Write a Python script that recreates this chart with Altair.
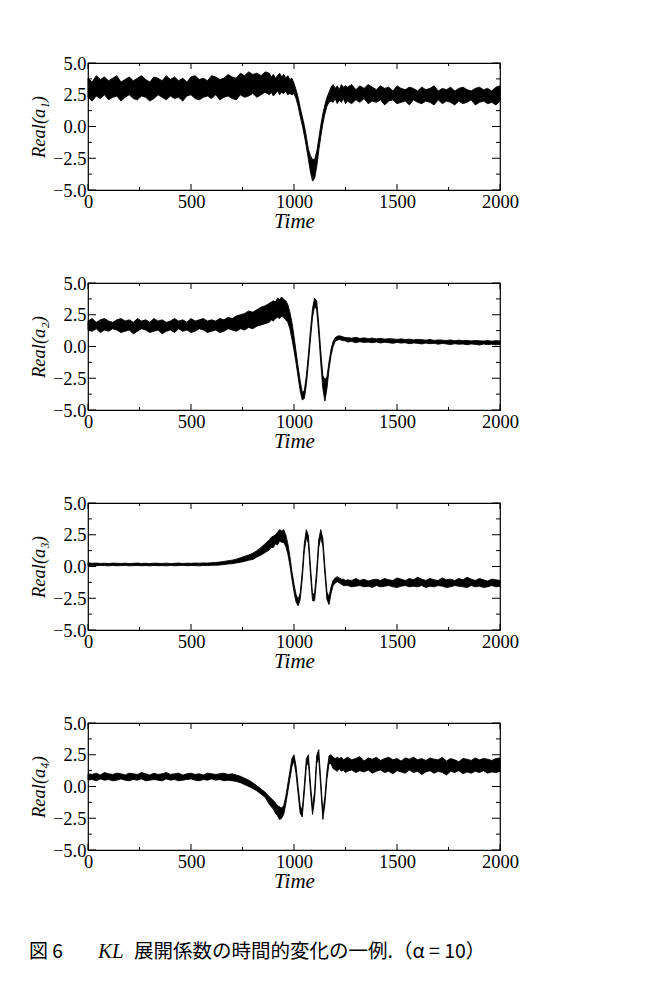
import altair as alt
import pandas as pd

# ---- sampling grid (time) ----
T_A = list(range(0, 880, 20))      # 0..860
T_B = list(range(880, 1260, 10))   # 880..1250
T_C = list(range(1260, 2001, 20))  # 1260..2000

# ---- panel 1: Real(a1) lower / upper envelope of the noisy trace ----
A1_lo = [2.3,2.0,2.4,2.2,2.5,2.1,2.3,2.4,2.0,2.3,2.5,2.2,2.1,2.4,2.3,2.0,2.2,2.5,2.3,2.1,
         2.4,2.2,2.3,2.0,2.4,2.5,2.2,2.1,2.3,2.4,2.2,2.5,2.1,2.3,2.4,2.2,2.1,2.5,2.3,2.4,
         2.6,2.3,2.5,2.7]
A1_hi = [3.8,3.5,4.0,3.7,3.9,3.6,3.8,4.0,3.5,3.7,3.9,3.6,3.8,4.0,3.7,3.5,3.9,3.8,3.6,4.0,
         3.7,3.9,3.6,3.8,3.5,3.9,4.0,3.7,3.8,3.6,4.0,3.9,3.7,3.8,4.1,3.9,3.8,4.2,4.0,4.3,
         4.1,4.2,4.0,4.3]
B1_lo = [2.5,2.7,2.4,2.6,2.8,2.5,2.7,2.6,2.8,2.5,2.6,2.5,2.6,2.2,1.6,0.8,0.1,-0.7,-1.6,-2.6,
         -3.6,-4.3,-4.1,-3.2,-1.9,-0.8,0.2,1.0,1.6,1.9,2.0,1.9,2.2,1.8,2.1,1.9,2.2,1.8]
B1_hi = [4.2,3.9,4.1,3.8,4.0,4.2,3.9,4.1,3.8,4.0,3.7,3.8,3.4,2.9,2.3,1.5,0.8,0.1,-0.8,-1.8,
         -2.3,-2.6,-2.6,-2.0,-1.0,0.1,1.0,1.7,2.3,2.7,3.1,3.3,3.0,3.2,2.9,3.3,3.1,3.2]
C1_lo = [2.0,1.8,2.1,1.9,2.2,1.8,2.0,1.9,2.1,1.7,2.0,2.1,1.8,1.9,2.0,1.7,2.1,1.9,1.8,2.0,
         1.9,1.7,2.1,1.8,2.0,1.9,1.7,2.0,1.8,1.9,2.1,1.7,1.9,2.0,1.8,1.9,1.7,2.0]
C1_hi = [3.1,3.3,2.9,3.2,3.0,3.3,3.1,2.9,3.2,3.0,3.1,2.8,3.2,3.0,2.9,3.1,3.0,2.8,3.1,2.9,
         3.0,3.2,2.8,3.0,2.9,3.1,2.8,3.0,3.1,2.9,2.8,3.0,3.1,2.9,3.0,2.8,3.1,3.2]

# ---- panel 2: Real(a2) ----
A2_lo = [1.3,1.2,1.4,1.1,1.3,1.2,1.4,1.3,1.1,1.2,1.3,1.0,1.2,1.4,1.3,1.1,1.2,1.3,1.0,1.2,
         1.3,1.1,1.4,1.2,1.3,1.1,1.2,1.4,1.3,1.1,1.2,1.3,1.1,1.2,1.4,1.3,1.2,1.4,1.3,1.5,
         1.4,1.6,1.7,1.8]
A2_hi = [2.0,2.2,1.9,2.1,2.2,2.0,1.9,2.1,2.2,2.0,2.1,1.9,2.2,2.0,2.1,1.9,2.2,2.0,2.1,1.9,
         2.0,2.2,2.0,2.1,1.9,2.2,2.0,2.1,2.2,2.0,2.1,2.0,2.2,2.1,2.3,2.2,2.4,2.5,2.6,2.8,
         2.7,2.9,3.1,3.2]
B2_lo = [1.9,2.1,2.0,2.2,2.3,2.2,2.4,2.3,2.1,1.9,1.4,0.6,-0.3,-1.3,-2.4,-3.5,-4.2,-4.1,-3.0,-1.3,
         0.6,2.3,3.2,2.9,1.0,-1.3,-3.3,-4.3,-3.3,-1.8,-0.7,0.0,0.4,0.5,0.55,0.5,0.45,0.45]
B2_hi = [3.4,3.5,3.6,3.5,3.8,3.7,3.9,3.7,3.6,3.3,2.7,1.9,0.8,-0.4,-1.6,-2.7,-3.6,-3.5,-2.3,-0.6,
         1.3,3.0,3.8,3.6,1.8,-0.4,-2.3,-2.6,-2.4,-1.2,-0.2,0.4,0.7,0.8,0.85,0.8,0.75,0.7]
C2_lo = [0.35,0.4,0.3,0.38,0.32,0.35,0.3,0.36,0.28,0.33,0.3,0.25,0.32,0.27,0.3,0.22,0.28,0.25,0.2,0.27,
         0.22,0.25,0.18,0.24,0.2,0.15,0.22,0.18,0.2,0.14,0.2,0.17,0.12,0.19,0.15,0.18,0.13,0.17]
C2_hi = [0.7,0.65,0.72,0.63,0.68,0.62,0.66,0.6,0.64,0.58,0.62,0.6,0.56,0.6,0.55,0.58,0.52,0.56,0.54,0.5,
         0.55,0.48,0.52,0.5,0.47,0.52,0.45,0.5,0.46,0.48,0.44,0.47,0.45,0.43,0.47,0.42,0.46,0.44]

# ---- panel 3: Real(a3) ----
A3_lo = [0.05,0.08,0.06,0.09,0.07,0.05,0.08,0.06,0.07,0.09,0.05,0.07,0.08,0.06,0.07,0.05,0.08,0.06,0.07,0.05,
         0.08,0.06,0.07,0.09,0.06,0.08,0.07,0.05,0.08,0.07,0.09,0.1,0.12,0.15,0.2,0.22,0.28,0.33,0.4,0.5,
         0.55,0.75,0.9,1.1]
A3_hi = [0.3,0.25,0.27,0.24,0.26,0.23,0.27,0.25,0.24,0.26,0.23,0.25,0.27,0.24,0.25,0.23,0.26,0.25,0.24,0.26,
         0.23,0.25,0.27,0.24,0.26,0.25,0.27,0.26,0.28,0.27,0.3,0.32,0.35,0.4,0.45,0.5,0.58,0.68,0.8,0.9,
         1.05,1.25,1.5,1.8]
B3_lo = [1.3,1.5,1.5,1.8,1.7,2.0,1.9,1.9,1.6,1.0,0.1,-1.0,-2.0,-2.8,-3.1,-2.6,-1.0,1.2,2.3,1.8,
         -0.6,-2.7,-2.7,-0.9,1.5,2.3,1.6,-0.6,-2.6,-3.0,-2.1,-1.5,-1.3,-1.2,-1.3,-1.4,-1.5,-1.5]
B3_hi = [2.1,2.3,2.4,2.5,2.7,2.9,2.8,2.9,2.5,1.8,0.8,-0.4,-1.4,-2.2,-2.6,-2.1,-0.4,1.8,2.9,2.4,
         0.0,-2.2,-2.1,-0.3,2.1,2.9,2.2,0.0,-2.0,-2.4,-1.6,-1.1,-0.9,-0.8,-0.9,-1.0,-1.0,-1.1]
C3_lo = [-1.5,-1.6,-1.55,-1.5,-1.6,-1.55,-1.65,-1.5,-1.6,-1.55,-1.5,-1.6,-1.65,-1.55,-1.5,-1.6,-1.55,-1.6,-1.5,-1.65,
         -1.55,-1.6,-1.5,-1.55,-1.65,-1.6,-1.5,-1.55,-1.6,-1.65,-1.5,-1.6,-1.55,-1.65,-1.6,-1.5,-1.6,-1.55]
C3_hi = [-1.05,-1.1,-0.95,-1.1,-1.0,-1.15,-1.05,-1.0,-1.1,-0.95,-1.05,-1.1,-0.9,-1.0,-1.1,-0.95,-1.05,-0.85,-1.0,-1.1,
         -0.95,-1.05,-1.1,-0.9,-1.05,-1.0,-1.1,-0.95,-1.05,-0.85,-1.0,-1.1,-0.95,-1.05,-1.15,-1.0,-1.05,-1.1]

# ---- panel 4: Real(a4) ----
A4_lo = [0.5,0.55,0.45,0.6,0.5,0.55,0.45,0.5,0.6,0.5,0.45,0.55,0.5,0.6,0.45,0.5,0.55,0.5,0.45,0.6,
         0.5,0.55,0.45,0.5,0.55,0.6,0.5,0.45,0.55,0.5,0.6,0.5,0.55,0.45,0.5,
         0.45,0.4,0.3,0.15,0.0,-0.15,-0.35,-0.6,-0.85]
A4_hi = [1.0,0.95,1.05,0.9,1.1,1.0,0.95,1.05,1.0,0.9,1.05,1.0,0.95,1.1,1.0,0.9,1.05,0.95,1.0,1.1,
         0.95,1.0,1.05,0.9,1.0,1.05,0.95,1.0,0.9,1.05,1.0,0.95,1.0,1.05,0.95,
         1.0,0.9,0.8,0.65,0.5,0.3,0.05,-0.2,-0.45]
B4_lo = [-1.4,-1.6,-1.8,-2.1,-2.3,-2.6,-2.5,-2.2,-1.4,-0.4,0.6,1.6,2.0,1.0,-0.6,-2.1,-2.4,-0.5,1.6,1.9,
         -0.4,-2.2,-1.0,1.8,2.2,-0.1,-2.6,-1.4,0.6,1.8,1.8,1.4,1.3,1.2,1.4,1.2,1.3,1.1]
B4_hi = [-0.8,-0.95,-1.1,-1.3,-1.5,-1.6,-1.7,-1.5,-0.8,0.2,1.2,2.2,2.5,1.6,0.0,-1.5,-1.9,0.1,2.2,2.5,
         0.2,-1.6,-0.4,2.4,2.9,0.5,-2.0,-0.8,1.2,2.4,2.5,2.3,2.2,2.3,2.2,2.3,2.1,2.2]
C4_lo = [1.2,1.3,1.1,1.25,1.15,1.3,1.05,1.2,1.3,1.1,1.2,1.0,1.25,1.15,1.05,1.3,1.1,1.2,0.95,1.15,
         1.25,1.05,1.2,1.1,0.9,1.2,1.1,1.25,1.0,1.15,1.05,1.2,1.1,1.25,1.05,1.15,1.1,1.2]
C4_hi = [2.3,2.1,2.2,2.35,2.0,2.25,2.15,2.3,2.05,2.2,2.3,2.1,2.2,2.0,2.25,2.15,2.3,2.1,2.2,2.05,
         2.25,2.15,2.1,2.3,2.0,2.2,2.1,1.95,2.2,2.15,2.05,2.25,2.1,2.2,2.15,2.05,2.2,2.25]

# ---- axes / text ----
X_MAJOR = [0, 500, 1000, 1500, 2000]
X_MINOR = [250, 750, 1250, 1750]
Y_MAJOR = [-5, -2.5, 0, 2.5, 5]
Y_MINOR = [-3.75, -1.25, 1.25, 3.75]
Y_TITLES = ["Real(a\u2081)", "Real(a\u2082)", "Real(a\u2083)", "Real(a\u2084)"]
X_TITLE = "Time"
CAP_FIG = "図 6"
CAP_KL = "KL"
CAP_REST = "展開係数の時間的変化の一例.（α = 10）"

W, H = 412, 127
SERIF = "Liberation Serif"


def build(segs):
    rows = []
    for T, (lo, hi) in zip((T_A, T_B, T_C), segs):
        for t, l, h in zip(T, lo, hi):
            rows.append({"t": t, "lo": l, "hi": h})
    return pd.DataFrame(rows)


xs = alt.Scale(domain=[0, 2000], nice=False, zero=False)
ys = alt.Scale(domain=[-5, 5], nice=False, zero=False)


def panel(df, ytitle, caption=False):
    ax_x = alt.Axis(values=X_MAJOR, format="d", title=X_TITLE, ticks=False, tickSize=0,
                    domain=False, grid=False, labelFlush=False, labelOverlap=False,
                    labelPadding=2, titlePadding=0, titleFontSize=21)
    ax_y = alt.Axis(values=Y_MAJOR, format=".1f", title=ytitle, ticks=False, tickSize=0,
                    domain=False, grid=False, labelFlush=False, labelOverlap=False,
                    labelPadding=2, titlePadding=4, titleFontSize=18.5)
    band = alt.Chart(df).mark_area(color="black", stroke="black", strokeWidth=0.9,
                                   strokeJoin="round").encode(
        x=alt.X("t:Q", scale=xs, axis=ax_x),
        y=alt.Y("lo:Q", scale=ys, axis=ax_y),
        y2="hi:Q",
    )
    layers = [band]

    def xticks(vals, ln):
        d = pd.DataFrame({"t": vals})
        top = alt.Chart(d).mark_rule(color="black", strokeWidth=1).encode(
            x=alt.X("t:Q", scale=xs, axis=ax_x), y=alt.value(0), y2=alt.value(ln))
        bot = alt.Chart(d).mark_rule(color="black", strokeWidth=1).encode(
            x=alt.X("t:Q", scale=xs, axis=ax_x), y=alt.value(H - ln), y2=alt.value(H))
        return [top, bot]

    def yticks(vals, ln):
        d = pd.DataFrame({"lo": vals})
        lft = alt.Chart(d).mark_rule(color="black", strokeWidth=1).encode(
            y=alt.Y("lo:Q", scale=ys, axis=ax_y), x=alt.value(0), x2=alt.value(ln))
        rgt = alt.Chart(d).mark_rule(color="black", strokeWidth=1).encode(
            y=alt.Y("lo:Q", scale=ys, axis=ax_y), x=alt.value(W - ln), x2=alt.value(W))
        return [lft, rgt]

    layers += xticks(X_MAJOR, 6) + xticks(X_MINOR, 3)
    layers += yticks(Y_MAJOR, 8) + yticks(Y_MINOR, 4)

    if caption:
        cy = 229
        layers.append(alt.Chart(pd.DataFrame({"s": [CAP_FIG]})).mark_text(
            font="Noto Sans CJK JP", fontSize=19, align="left", baseline="middle", color="black"
        ).encode(text="s:N", x=alt.value(-59), y=alt.value(cy)))
        layers.append(alt.Chart(pd.DataFrame({"s": [CAP_KL]})).mark_text(
            font=SERIF, fontSize=21, fontStyle="italic", align="left", baseline="middle", color="black"
        ).encode(text="s:N", x=alt.value(10), y=alt.value(cy)))
        layers.append(alt.Chart(pd.DataFrame({"s": [CAP_REST]})).mark_text(
            font="Noto Sans CJK JP", fontSize=19.5, align="left", baseline="middle", color="black"
        ).encode(text="s:N", x=alt.value(46), y=alt.value(cy)))

    return alt.layer(*layers).properties(width=W, height=H)


dfs = [
    build([(A1_lo, A1_hi), (B1_lo, B1_hi), (C1_lo, C1_hi)]),
    build([(A2_lo, A2_hi), (B2_lo, B2_hi), (C2_lo, C2_hi)]),
    build([(A3_lo, A3_hi), (B3_lo, B3_hi), (C3_lo, C3_hi)]),
    build([(A4_lo, A4_hi), (B4_lo, B4_hi), (C4_lo, C4_hi)]),
]

panels = [panel(dfs[i], Y_TITLES[i], caption=(i == 3)) for i in range(4)]

chart = alt.vconcat(*panels, spacing=40).properties(
    padding={"left": 28, "top": 53, "right": 5, "bottom": 5},
    background="white",
).configure_view(
    stroke="black", strokeWidth=1.2
).configure_axis(
    labelFont=SERIF, labelFontSize=18.5, labelColor="black",
    titleFont=SERIF, titleFontStyle="italic", titleFontWeight="normal",
    titleColor="black",
)

chart.save("out.html", embed_options={"renderer": "svg", "actions": False})
